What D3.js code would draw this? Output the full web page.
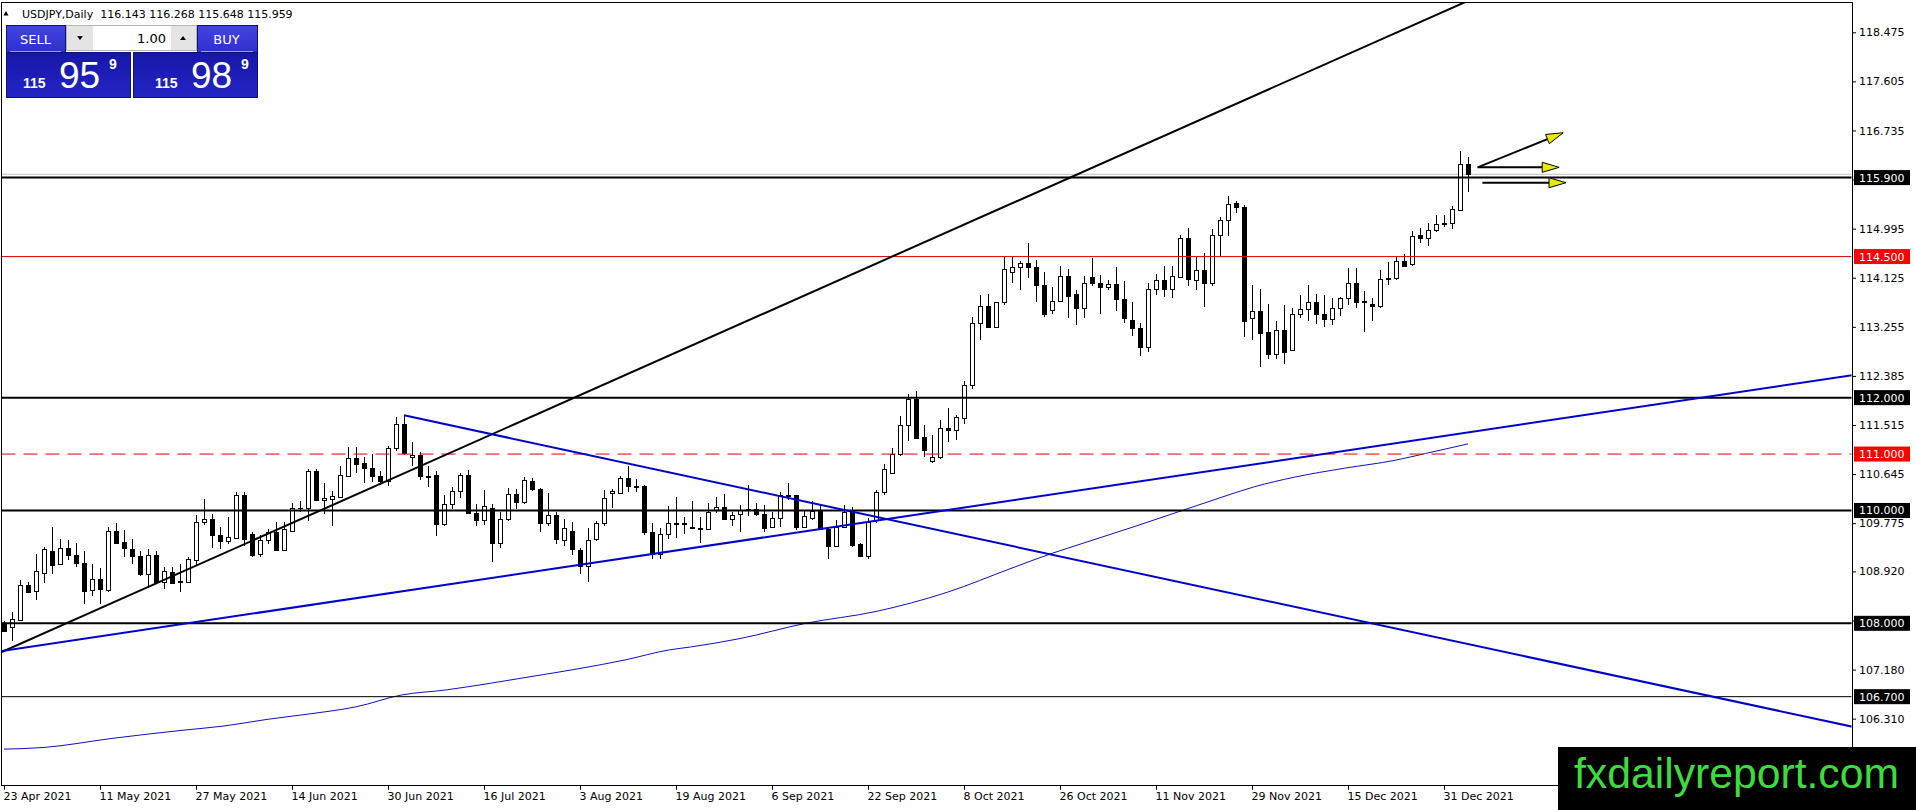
<!DOCTYPE html>
<html>
<head>
<meta charset="utf-8">
<script src="https://cdn.jsdelivr.net/npm/d3@7"></script>
<style>
  body { margin: 0; background: #fff; overflow: hidden; }
  svg { display: block; font-family: "DejaVu Sans", sans-serif; }
</style>
</head>
<body>
<svg id="chart" width="1916" height="810"></svg>
<script>
// USDJPY daily bars, 23 Apr 2021 .. 5 Jan 2022
let opens = [
  107.98,107.93,108.06,108.68,108.57,108.90,109.28,109.06,109.33,109.21,
  109.07,108.59,108.78,108.59,109.63,109.44,109.31,109.19,108.87,109.21,
  108.74,108.91,108.75,108.74,109.13,109.79,109.85,109.57,109.46,109.52,
  110.27,109.58,109.22,109.48,109.61,109.30,109.63,110.04,110.05,110.70,
  110.18,110.20,110.24,110.61,110.93,110.85,110.76,110.61,110.53,111.11,
  111.53,110.95,110.98,110.61,110.63,109.76,110.11,110.35,110.63,109.95,
  109.84,110.04,109.43,109.85,110.29,110.15,110.53,110.38,109.78,109.92,
  109.47,109.63,109.30,109.02,109.49,109.78,110.31,110.31,110.57,110.43,
  110.43,109.61,109.23,109.59,109.76,109.76,109.70,109.69,109.67,110.01,
  110.07,109.85,109.93,110.03,110.03,109.94,109.71,109.86,110.28,110.27,
  109.71,109.87,109.99,109.68,109.37,109.71,109.99,109.41,109.20,109.83,
  110.33,110.67,111.00,111.51,111.97,111.30,110.88,110.94,111.47,111.42,
  111.64,112.23,113.32,113.62,113.26,113.69,114.23,114.32,114.38,114.32,
  113.99,113.55,113.71,114.16,113.83,113.58,114.13,114.03,113.96,114.01,
  113.74,113.38,113.23,112.89,113.92,114.09,113.92,114.13,114.83,114.09,
  114.26,114.03,114.88,115.15,115.45,115.37,113.41,113.54,113.16,112.78,
  113.19,112.84,113.49,113.57,113.70,113.48,113.39,113.58,113.76,114.04,
  113.71,113.66,113.62,114.12,114.12,114.42,114.37,114.88,114.83,114.97,
  115.07,115.09,115.33,116.143
];
let highs = [
  108.04,108.20,108.76,108.74,109.23,109.36,109.70,109.49,109.48,109.42,
  109.28,109.05,108.98,109.70,109.78,109.65,109.49,109.28,109.31,109.28,
  109.00,109.00,109.06,109.18,109.92,110.21,109.93,109.70,109.89,110.33,
  110.33,109.61,109.56,109.68,109.79,109.79,110.14,110.17,110.73,110.73,
  110.49,110.35,110.79,111.12,111.12,110.94,111.00,110.70,111.15,111.66,
  111.67,111.21,111.03,110.79,110.70,110.28,110.41,110.67,110.72,110.11,
  110.37,110.11,109.98,110.40,110.38,110.60,110.57,110.40,110.31,109.98,
  109.85,109.79,109.34,109.69,109.82,110.36,110.38,110.61,110.79,110.56,
  110.45,109.77,109.69,110.08,110.24,109.89,110.17,109.89,110.14,110.23,
  110.29,109.98,110.10,110.45,110.14,110.09,109.97,110.33,110.48,110.28,
  110.00,110.17,110.10,109.71,109.84,110.10,110.06,109.43,109.86,110.37,
  110.83,111.10,111.67,112.07,112.12,111.52,111.33,111.60,111.82,111.69,
  112.29,113.43,113.82,113.83,113.70,114.50,114.50,114.42,114.74,114.44,
  114.23,113.96,114.34,114.28,113.91,114.15,114.48,114.17,114.09,114.32,
  114.07,113.69,113.32,114.04,114.19,114.33,114.33,114.88,115.00,114.50,
  114.57,114.99,115.21,115.57,115.49,115.41,114.00,113.93,113.66,113.35,
  113.64,113.58,113.82,114.00,113.83,113.82,113.76,113.79,114.30,114.29,
  113.89,113.76,114.26,114.41,114.50,114.55,114.96,115.00,115.09,115.24,
  115.24,115.40,116.38,116.268
];
let lows = [
  107.84,107.69,108.04,108.55,108.42,108.71,108.88,109.03,109.13,108.99,
  108.34,108.49,108.34,108.55,109.40,109.18,109.06,108.83,108.63,108.71,
  108.60,108.69,108.55,108.72,109.04,109.75,109.34,109.32,109.41,109.52,
  109.37,109.18,109.18,109.40,109.28,109.28,109.61,109.98,109.82,110.17,
  109.93,109.72,110.23,110.60,110.67,110.48,110.51,110.46,110.44,111.05,
  110.99,110.79,110.54,110.41,109.54,109.73,110.02,110.22,109.93,109.73,
  109.75,109.08,109.34,109.82,110.02,110.11,110.35,109.61,109.73,109.41,
  109.37,109.21,108.88,108.74,109.46,109.73,110.04,110.29,110.32,110.32,
  109.56,109.14,109.14,109.49,109.51,109.58,109.67,109.43,109.65,109.95,
  109.84,109.73,109.61,109.91,109.91,109.62,109.69,109.71,110.18,109.65,
  109.71,109.84,109.67,109.14,109.37,109.71,109.35,109.19,109.14,109.77,
  110.27,110.65,110.97,111.23,111.28,110.95,110.85,110.92,111.22,111.25,
  111.53,112.16,113.02,113.24,113.23,113.64,114.04,113.91,114.12,113.69,
  113.43,113.49,113.69,113.42,113.29,113.42,113.97,113.49,113.90,113.54,
  113.32,113.09,112.74,112.80,113.82,113.79,113.76,114.12,113.97,113.90,
  113.61,113.97,114.51,114.86,115.27,113.08,113.02,112.55,112.68,112.68,
  112.59,112.83,113.42,113.35,113.30,113.25,113.29,113.45,113.64,113.58,
  113.17,113.35,113.58,113.99,114.09,114.32,114.33,114.74,114.69,114.94,
  115.02,114.99,115.30,115.648
];
let closes = [
  107.87,108.07,108.68,108.56,108.92,109.31,109.04,109.33,109.21,109.07,
  108.58,108.78,108.60,109.63,109.43,109.33,109.19,108.87,109.21,108.74,
  108.92,108.72,108.74,109.14,109.79,109.85,109.56,109.46,109.53,110.27,
  109.50,109.21,109.48,109.61,109.30,109.67,110.04,110.05,110.70,110.18,
  110.22,110.25,110.63,110.93,110.83,110.76,110.61,110.53,111.11,111.53,
  111.01,110.98,110.61,110.60,109.76,110.11,110.35,110.63,109.95,109.84,
  110.08,109.43,109.85,110.29,110.15,110.54,110.38,109.78,109.92,109.49,
  109.69,109.31,109.02,109.48,109.78,110.22,110.34,110.57,110.43,110.42,
  109.61,109.23,109.59,109.78,109.77,109.77,109.69,109.68,109.98,110.07,
  109.85,109.92,110.00,110.02,109.93,109.69,109.86,110.27,110.26,109.71,
  109.91,109.99,109.68,109.37,109.71,109.97,109.38,109.20,109.80,110.33,
  110.74,111.00,111.51,111.97,111.29,111.07,110.94,111.47,111.42,111.65,
  112.23,113.32,113.62,113.26,113.69,114.28,114.32,114.38,114.32,113.99,
  113.48,113.71,114.16,113.81,113.58,114.03,114.03,113.96,114.01,113.74,
  113.42,113.23,112.89,113.92,114.09,113.92,114.16,114.83,114.10,114.26,
  114.03,114.88,115.15,115.43,115.38,113.35,113.54,113.15,112.78,113.19,
  112.81,113.49,113.57,113.70,113.48,113.39,113.58,113.76,114.04,113.70,
  113.70,113.62,114.10,114.10,114.42,114.33,114.87,114.83,114.97,115.07,
  115.09,115.34,116.14,115.959
];

// bottom axis: one label every 12 bars
let dateIdx = [0,12,24,36,48,60,72,84,96,108,120,132,144,156,168,180];
let dateLabels = ["23 Apr 2021","11 May 2021","27 May 2021","14 Jun 2021","30 Jun 2021",
  "16 Jul 2021","3 Aug 2021","19 Aug 2021","6 Sep 2021","22 Sep 2021","8 Oct 2021",
  "26 Oct 2021","11 Nov 2021","29 Nov 2021","15 Dec 2021","31 Dec 2021"];

// right price scale
let priceTicks = [118.475,117.605,116.735,115.865,114.995,114.125,113.255,112.385,
  111.515,110.645,109.775,108.920,108.050,107.180,106.310];

// horizontal levels
let levelValues = [115.900, 114.500, 112.000, 111.000, 110.000, 108.000, 106.700];
let bidPrice = 115.959;

// moving average, sampled along the curve (bar index, price)
let maIdx = [0,5,13.5,22,27.5,33,38.5,44,49.7,55.3,60.9,66.5,72,77.6,83.2,85.8,92,
  100.2,109,117.9,126,131,134.9,141.2,147.5,151.9,156.3,161.3,167.6,173.9,177.7,183];
let maVal = [105.77,105.80,105.96,106.10,106.18,106.30,106.40,106.52,106.73,106.82,
  106.94,107.07,107.20,107.35,107.53,107.58,107.73,108.00,108.21,108.55,108.98,109.24,
  109.42,109.71,110.01,110.22,110.42,110.59,110.75,110.89,111.01,111.18];

// trend lines: two anchors each (bar index, price)
let blackTrend = [[0, 107.511], [50, 110.659]];
let blueRise = [[0, 107.516], [100, 109.629]];
let blueFall = [[50, 111.686], [100, 110.162]];

// arrows: start bar, start price, tip bar, tip price
let arrows = [
  [184.2, 116.082, 194.9, 116.695],
  [184.2, 116.082, 194.4, 116.082],
  [184.8, 115.809, 195.25, 115.809]
];

const plot = { left: 1.5, top: 2.5, right: 1852, bottom: 785.7 };

const svg = d3.select("#chart");
const x = d3.scaleLinear().domain([0, 183]).range([4, 1468]);
const y = d3.scaleLinear().domain([105.122, 119.012]).range([785.7, 2]);

svg.append("defs").append("clipPath").attr("id", "plotClip")
  .append("rect")
  .attr("x", plot.left + 0.5).attr("y", plot.top + 0.5)
  .attr("width", plot.right - plot.left - 1).attr("height", plot.bottom - plot.top - 1);

const g = svg.append("g").attr("clip-path", "url(#plotClip)");

// bid line
g.append("line")
  .attr("x1", plot.left).attr("x2", plot.right)
  .attr("y1", y(bidPrice)).attr("y2", y(bidPrice))
  .attr("stroke", "#c0c0c0").attr("stroke-width", 1);

// candles
const bars = d3.range(opens.length);
const cg = g.append("g").attr("shape-rendering", "crispEdges");
cg.selectAll(".wick").data(bars).join("rect")
  .attr("class", "wick")
  .attr("x", (i) => Math.round(x(i)))
  .attr("y", (i) => Math.round(y(highs[i])))
  .attr("width", 1)
  .attr("height", (i) => Math.max(1, Math.round(y(lows[i])) - Math.round(y(highs[i]))))
  .attr("fill", "#000");

function bodyTop(i) { return Math.round(y(Math.max(opens[i], closes[i]))); }
function bodyH(i) {
  return Math.max(1, Math.round(y(Math.min(opens[i], closes[i]))) - bodyTop(i) + 1);
}
cg.selectAll(".body").data(bars).join("rect")
  .attr("class", "body")
  .attr("x", (i) => Math.round(x(i)) - 2)
  .attr("y", bodyTop)
  .attr("width", 5)
  .attr("height", bodyH)
  .attr("fill", "#000");
cg.selectAll(".inner").data(bars.filter((i) => closes[i] > opens[i] && bodyH(i) > 2)).join("rect")
  .attr("class", "inner")
  .attr("x", (i) => Math.round(x(i)) - 1)
  .attr("y", (i) => bodyTop(i) + 1)
  .attr("width", 3)
  .attr("height", (i) => bodyH(i) - 2)
  .attr("fill", "#fff");

// moving average
g.append("path")
  .datum(maIdx)
  .attr("fill", "none")
  .attr("stroke", "#1010c0")
  .attr("stroke-width", 1)
  .attr("d", d3.line().x((d) => x(d)).y((d, k) => y(maVal[k])).curve(d3.curveMonotoneX));

// horizontal levels
const levelStyle = {
  115.9: { c: "#000", w: 2 }, 114.5: { c: "#e00000", w: 1 }, 112: { c: "#000", w: 2 },
  111: { c: "#e00000", w: 1, dash: "14,8" }, 110: { c: "#000", w: 2 },
  108: { c: "#000", w: 2 }, 106.7: { c: "#000", w: 1 }
};
g.selectAll(".level").data(levelValues).join("line")
  .attr("class", "level")
  .attr("x1", plot.left).attr("x2", plot.right)
  .attr("y1", (d) => y(d)).attr("y2", (d) => y(d))
  .attr("stroke", (d) => levelStyle[d].c)
  .attr("stroke-width", (d) => levelStyle[d].w)
  .attr("stroke-dasharray", (d) => levelStyle[d].dash || null);

// trend lines, extended as rays
function ray(anchors, from, to) {
  const [[i0, p0], [i1, p1]] = anchors;
  const k = (p1 - p0) / (i1 - i0);
  return [[from, p0 + k * (from - i0)], [to, p0 + k * (to - i0)]];
}
const trendLine = d3.line().x((d) => x(d[0])).y((d) => y(d[1]));
[
  [ray(blackTrend, -2, 260), "#000"],
  [ray(blueRise, -2, 260), "#0000cc"],
  [ray(blueFall, 50, 260), "#0000cc"]
].forEach(([pts, col]) => {
  g.append("path").attr("d", trendLine(pts))
    .attr("fill", "none").attr("stroke", col).attr("stroke-width", 2);
});

// arrows
arrows.forEach((a) => {
  const x0 = x(a[0]), y0 = y(a[1]), x1 = x(a[2]), y1 = y(a[3]);
  const ang = Math.atan2(y1 - y0, x1 - x0);
  const len = 17, hw = 5;
  const bx = x1 - len * Math.cos(ang), by = y1 - len * Math.sin(ang);
  g.append("line").attr("x1", x0).attr("y1", y0).attr("x2", bx).attr("y2", by)
    .attr("stroke", "#000").attr("stroke-width", 2);
  g.append("polygon")
    .attr("points", [
      [x1, y1],
      [bx - hw * Math.sin(ang), by + hw * Math.cos(ang)],
      [bx + hw * Math.sin(ang), by - hw * Math.cos(ang)]
    ].map((p) => p.join(",")).join(" "))
    .attr("fill", "#e8e800").attr("stroke", "#000").attr("stroke-width", 1);
});

// plot frame
svg.append("rect")
  .attr("x", plot.left).attr("y", plot.top)
  .attr("width", plot.right - plot.left).attr("height", plot.bottom - plot.top)
  .attr("fill", "none").attr("stroke", "#000").attr("stroke-width", 1)
  .attr("shape-rendering", "crispEdges");

// right price axis
const yAxis = svg.append("g")
  .attr("transform", "translate(" + plot.right + ",0)")
  .call(d3.axisRight(y).tickValues(priceTicks).tickSize(4).tickPadding(3).tickFormat(d3.format(".3f")));
yAxis.select(".domain").remove();
yAxis.attr("font-size", null).attr("font-family", null);
yAxis.selectAll("text").style("font-size", "11px").attr("fill", "#000");
yAxis.selectAll("line").attr("stroke", "#000");

// boxed level labels
const labelBg = { 115.9: "#000", 114.5: "#ff0000", 112: "#000", 111: "#ff0000", 110: "#000", 108: "#000", 106.7: "#000" };
const lab = svg.append("g");
levelValues.forEach((v) => {
  lab.append("rect").attr("x", 1854).attr("y", y(v) - 7.5).attr("width", 56).attr("height", 15)
    .attr("fill", labelBg[v]);
  lab.append("text").attr("x", 1859).attr("y", y(v)).attr("dy", "0.36em")
    .style("font-size", "11px").attr("fill", "#fff").text(v.toFixed(3));
});

// bottom date axis
const xAxis = svg.append("g")
  .attr("transform", "translate(0," + plot.bottom + ")")
  .call(d3.axisBottom(x).tickValues(dateIdx).tickSize(4).tickPadding(3)
    .tickFormat((d, k) => dateLabels[k]));
xAxis.select(".domain").remove();
xAxis.attr("font-size", null).attr("font-family", null);
xAxis.selectAll("text").style("font-size", "11px")
  .attr("fill", "#000").attr("text-anchor", "start").attr("x", -1);
xAxis.selectAll("line").attr("stroke", "#000");

// title
svg.append("polygon").attr("points", "3.5,15.5 8.5,15.5 6,11").attr("fill", "#000");
svg.append("text").attr("x", 22).attr("y", 17.5).style("font-size", "11px").attr("fill", "#000")
  .style("white-space", "pre")
  .text("USDJPY,Daily  116.143 116.268 115.648 115.959");

// one click trading panel
const defs = svg.select("defs");
const gBtn = defs.append("linearGradient").attr("id", "btnGrad").attr("x1", 0).attr("y1", 0).attr("x2", 0).attr("y2", 1);
gBtn.append("stop").attr("offset", "0").attr("stop-color", "#4444e0");
gBtn.append("stop").attr("offset", "1").attr("stop-color", "#2f2fcf");
const gBox = defs.append("linearGradient").attr("id", "boxGrad").attr("x1", 0).attr("y1", 0).attr("x2", 0).attr("y2", 1);
gBox.append("stop").attr("offset", "0").attr("stop-color", "#1616a6");
gBox.append("stop").attr("offset", "1").attr("stop-color", "#2525c6");

const panel = svg.append("g").attr("shape-rendering", "crispEdges");
[[6, 65], [197, 257]].forEach(([a, b]) => {
  panel.append("rect").attr("x", a).attr("y", 25).attr("width", b - a).attr("height", 27)
    .attr("fill", "url(#btnGrad)").attr("stroke", "#10107a").attr("stroke-width", 1);
  panel.append("line").attr("x1", a + 4).attr("x2", b - 4).attr("y1", 51).attr("y2", 51)
    .attr("stroke", "#9a9aff").attr("stroke-width", 1);
});
[[6, 130.5], [133.5, 257]].forEach(([a, b]) => {
  panel.append("rect").attr("x", a).attr("y", 52).attr("width", b - a).attr("height", 45)
    .attr("fill", "url(#boxGrad)").attr("stroke", "#10107a").attr("stroke-width", 1);
});
panel.append("rect").attr("x", 66.5).attr("y", 25.5).attr("width", 130).attr("height", 25)
  .attr("fill", "#fff").attr("stroke", "#b4b4b4");
panel.append("rect").attr("x", 67).attr("y", 26).attr("width", 25.5).attr("height", 24).attr("fill", "#e4e4e4");
panel.append("rect").attr("x", 170.5).attr("y", 26).attr("width", 25.5).attr("height", 24).attr("fill", "#e4e4e4");
panel.append("polygon").attr("points", "77,36 83,36 80,40").attr("fill", "#000").attr("shape-rendering", "auto");
panel.append("polygon").attr("points", "180,40 186,40 183,36").attr("fill", "#000").attr("shape-rendering", "auto");

panel.append("text").attr("x", 35.5).attr("y", 44).attr("text-anchor", "middle")
  .style("font-size", "13px").attr("fill", "#fff").text("SELL");
panel.append("text").attr("x", 226.5).attr("y", 44).attr("text-anchor", "middle")
  .style("font-size", "13px").attr("fill", "#fff").text("BUY");
panel.append("text").attr("x", 166).attr("y", 43).attr("text-anchor", "end")
  .style("font-size", "13px").attr("fill", "#000").text("1.00");

function price(x0, big, sup) {
  panel.append("text").attr("x", x0).attr("y", 88)
    .style("font-family", "'Liberation Sans', Arial, sans-serif").style("font-size", "14px")
    .style("font-weight", "bold").attr("fill", "#fff").text("115");
  panel.append("text").attr("x", x0 + 36).attr("y", 88)
    .style("font-family", "'Liberation Sans', Arial, sans-serif").style("font-size", "37px")
    .attr("fill", "#fff").text(big);
  panel.append("text").attr("x", x0 + 86).attr("y", 69)
    .style("font-family", "'Liberation Sans', Arial, sans-serif").style("font-size", "14px")
    .style("font-weight", "bold").attr("fill", "#fff").text(sup);
}
price(23, "95", "9");
price(155, "98", "9");

// watermark
svg.append("rect").attr("x", 1558).attr("y", 747).attr("width", 358).attr("height", 63).attr("fill", "#000");
svg.append("text").attr("x", 1574).attr("y", 788)
  .style("font-family", "'Liberation Sans', Arial, sans-serif").style("font-size", "42px")
  .attr("textLength", 325).attr("lengthAdjust", "spacingAndGlyphs")
  .attr("fill", "#3ddc3d").text("fxdailyreport.com");
</script>
</body>
</html>
